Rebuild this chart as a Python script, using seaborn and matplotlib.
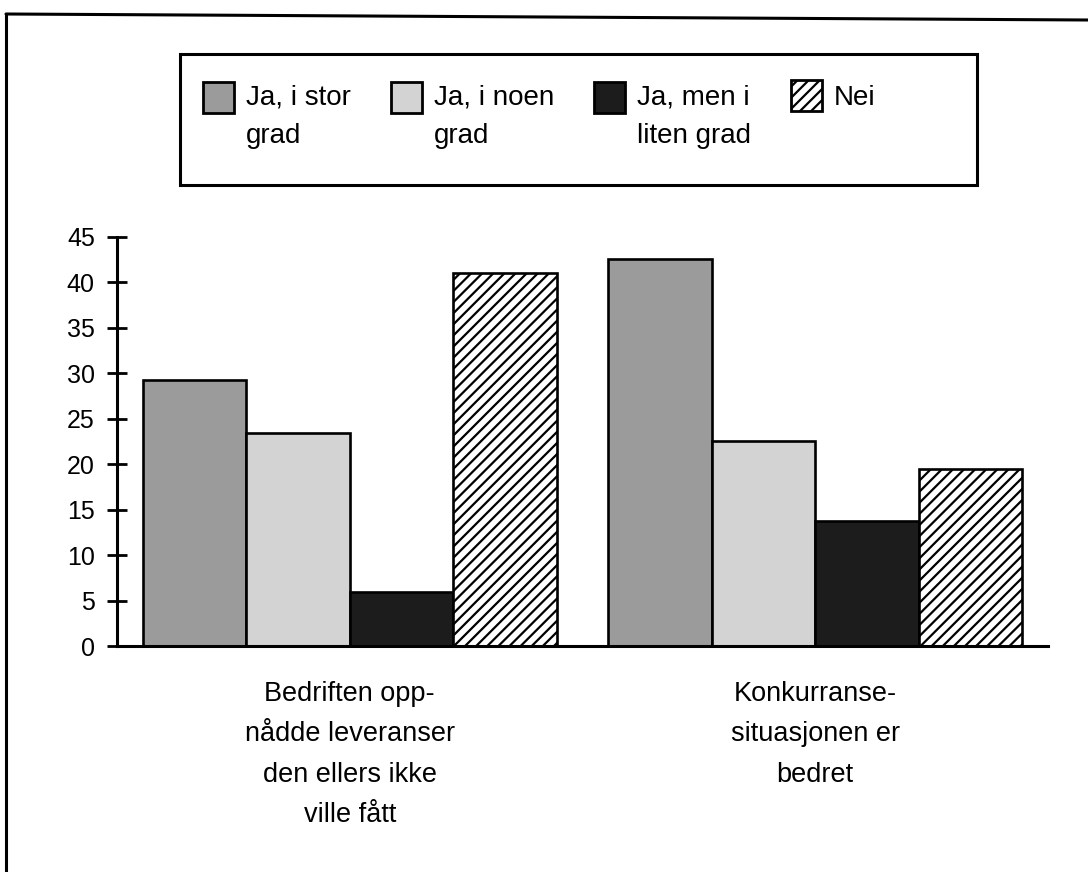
import numpy as np
import pandas as pd
import matplotlib
matplotlib.use("Agg")
import matplotlib.pyplot as plt
import seaborn as sns
from matplotlib.patches import Patch, Rectangle
from matplotlib.lines import Line2D
from matplotlib.legend_handler import HandlerPatch

# --- data -------------------------------------------------------------
categories = [
    "Bedriften opp-\nnådde leveranser\nden ellers ikke\nville fått",
    "Konkurranse-\nsituasjonen er\nbedret",
]
responses = ["Ja, i stor\ngrad", "Ja, i noen\ngrad", "Ja, men i\nliten grad", "Nei"]
stor_grad = [29.3, 42.6]
noen_grad = [23.4, 22.5]
liten_grad = [5.9, 13.7]
nei = [41.0, 19.5]
y_ticks = [0, 5, 10, 15, 20, 25, 30, 35, 40, 45]

series = [stor_grad, noen_grad, liten_grad, nei]
df = pd.DataFrame(
    [(cat, resp, vals[i]) for resp, vals in zip(responses, series)
     for i, cat in enumerate(categories)],
    columns=["kategori", "svar", "prosent"],
)

fills = ["#9b9b9b", "#d3d3d3", "#1c1c1c", "#ffffff"]
hatches = [None, None, None, "///"]

# --- style ------------------------------------------------------------
sns.set_theme(style="white")
plt.rcParams["font.family"] = ["Liberation Sans", "DejaVu Sans"]
plt.rcParams["hatch.linewidth"] = 1.6
plt.rcParams["hatch.color"] = "black"
plt.rcParams["text.color"] = "black"
plt.rcParams["xtick.color"] = "black"
plt.rcParams["ytick.color"] = "black"
plt.rcParams["xtick.labelcolor"] = "black"
plt.rcParams["ytick.labelcolor"] = "black"

W, H = 1088, 872
fig = plt.figure(figsize=(W / 100, H / 100), dpi=100)
fig.patch.set_facecolor("white")

def fx(px):
    return px / W

def fy(py):
    return 1 - py / H

ax_l, ax_r, ax_b, ax_t = 117, 1048, 646, 237
ax = fig.add_axes([fx(ax_l), fy(ax_b), fx(ax_r - ax_l), (ax_b - ax_t) / H])

sns.barplot(
    data=df, x="kategori", y="prosent", hue="svar",
    order=categories, hue_order=responses, palette=fills,
    width=0.89, gap=0, errorbar=None, legend=False,
    edgecolor="black", linewidth=1.9, saturation=1, ax=ax,
)
for cont, hatch, col in zip(ax.containers, hatches, fills):
    for bar in cont:
        bar.set_facecolor(col)
        bar.set_edgecolor("black")
        if hatch:
            bar.set_hatch(hatch)

# --- axes -------------------------------------------------------------
ax.set_xlim(-0.5, 1.5)
ax.set_ylim(0, 45)
ax.set_yticks(y_ticks)
ax.set_yticklabels([str(t) for t in y_ticks], fontsize=18, color="black")
ax.set_xticks([0, 1])
ax.set_xticklabels(categories, fontsize=19.5, linespacing=1.72, color="black")
ax.set_xticks([-0.5, 0.5, 1.5], minor=True)
ax.tick_params(axis="x", which="major", length=0, pad=25)
ax.tick_params(axis="x", which="minor", length=14, width=2, direction="inout",
               color="black")
ax.tick_params(axis="y", length=14, width=2, direction="inout", pad=9,
               color="black", left=True)
ax.set_xlabel("")
ax.set_ylabel("")
for side in ["top", "right"]:
    ax.spines[side].set_visible(False)
for side in ["left", "bottom"]:
    ax.spines[side].set_linewidth(2.2)
    ax.spines[side].set_color("black")
ax.set_facecolor("white")

# --- legend -----------------------------------------------------------
LEG_FS = 20
LEG_LS = 1.6

def top_square(legend, orig_handle, xdescent, ydescent, width, height, fontsize):
    side = width
    lines = legend_lines.get(id(orig_handle), 1)
    shift = 0.0 if lines == 1 else 0.72 * fontsize
    return Rectangle((-xdescent, -ydescent + height / 2 - side / 2 + shift), side, side)

handles = []
legend_lines = {}
for lab, col, hatch in zip(responses, fills, hatches):
    p = Patch(facecolor=col, edgecolor="black", linewidth=2.0, hatch=hatch)
    legend_lines[id(p)] = lab.count("\n") + 1
    handles.append(p)

leg = fig.legend(
    handles, responses, loc="upper left",
    bbox_to_anchor=(fx(203), fy(85)), ncol=4, frameon=False,
    fontsize=LEG_FS, handlelength=1.12, handleheight=0.7, handletextpad=0.42,
    columnspacing=1.45, borderpad=0, borderaxespad=0,
    labelcolor="black",
    handler_map={Patch: HandlerPatch(patch_func=top_square)},
)
for t in leg.get_texts():
    t.set_linespacing(LEG_LS)
# columns share a common top edge
leg._legend_handle_box.align = "top"

# legend frame and page frame
fig.add_artist(Rectangle((fx(180), fy(185)), fx(977 - 180), (185 - 54) / H,
                         transform=fig.transFigure, fill=False,
                         edgecolor="black", linewidth=2.2))
fig.add_artist(Line2D([fx(6), fx(1088)], [fy(14), fy(20)],
                      transform=fig.transFigure, color="black", linewidth=2.2))
fig.add_artist(Line2D([fx(6), fx(6)], [fy(14), fy(872)],
                      transform=fig.transFigure, color="black", linewidth=2.2))

fig.savefig("out.png", dpi=100, facecolor="white")
